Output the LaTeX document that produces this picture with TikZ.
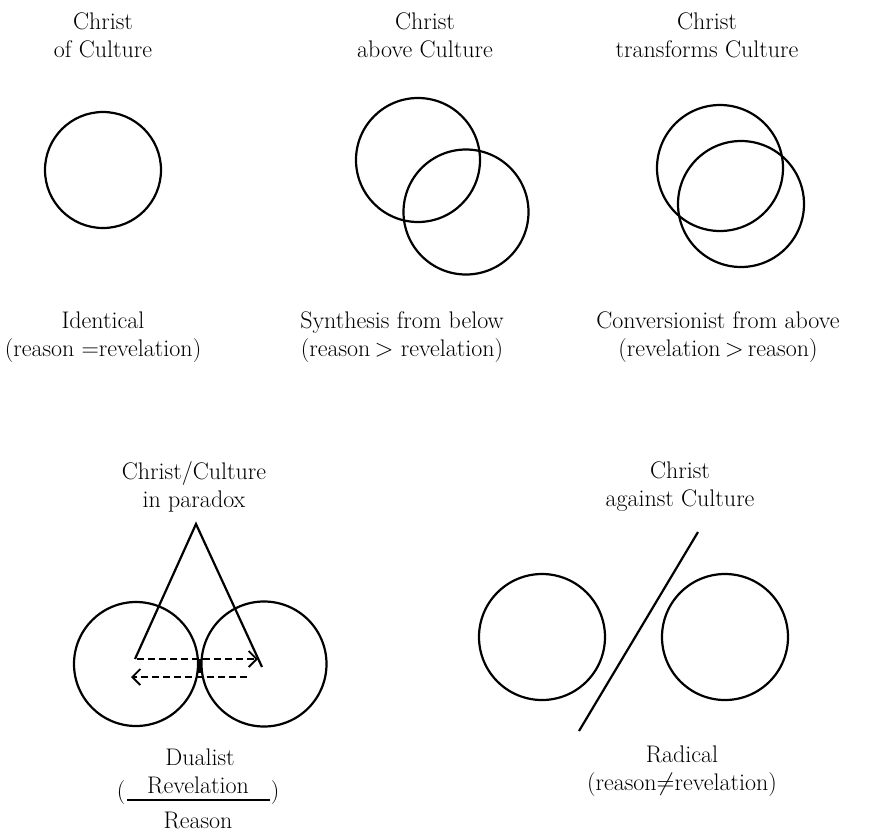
\documentclass[tikz,border=0pt]{standalone}
\usetikzlibrary{arrows.meta}
\begin{document}
\begin{tikzpicture}[x=1pt,y=-1pt,
  lbl/.style={align=center,inner sep=0pt,font=\fontsize{24}{28}\selectfont},
  ring/.style={draw,circle,line width=2.2pt,inner sep=0pt},
  stroke/.style={line width=2.2pt},
  dashline/.style={line width=2.2pt,dash pattern=on 7pt off 4pt,-{Straight Barb[length=8pt,width=16pt,line width=1.8pt]}}]
\useasboundingbox (0,0) rectangle (881,831);
% top row labels
\node[lbl] (t1) at (103,35) {Christ\\of Culture};
\node[lbl] (t2) at (425,35) {Christ\\above Culture};
\node[lbl] (t3) at (707,35) {Christ\\transforms Culture};
% top row circles
\node[ring,minimum size=116pt] (c1) at (103,170) {};
\node[ring,minimum size=124pt] (ca) at (418,160) {};
\node[ring,minimum size=125pt] (cb) at (466,212) {};
\node[ring,minimum size=126pt] (cc) at (720,168) {};
\node[ring,minimum size=126pt] (cd) at (741,204) {};
% top row captions
\node[lbl] (b1) at (103,337) {Identical\\(reason =revelation)};
\node[lbl] (b2) at (402,337) {Synthesis from below\\(reason$\,>$ revelation)};
\node[lbl] (b3) at (718,337) {Conversionist from above\\(revelation$\,>\,$reason)};
% paradox
\node[lbl] (p) at (194,487) {Christ/Culture\\in paradox};
\node[ring,minimum size=124pt] (pl) at (136,664) {};
\node[ring,minimum size=125pt] (pr) at (264,664) {};
\coordinate (apex) at (196,524);
\coordinate (legl) at (135,659);
\coordinate (legr) at (262,667);
\draw[stroke,line join=miter] (legl) -- (apex) -- (legr);
\coordinate (a1s) at (137,659);
\coordinate (a1e) at (258,659);
\coordinate (a2s) at (247,677);
\coordinate (a2e) at (131,677);
\draw[dashline] (a1s) -- (a1e);
\draw[dashline] (a2s) -- (a2e);
\coordinate (bart) at (200,659);
\coordinate (barb) at (200,673);
\draw[line width=3.2pt] (bart) -- (barb);
\node[lbl] (du) at (200,757) {Dualist};
\node[lbl] (rev) at (198,785) {Revelation};
\node[lbl] (rea) at (198,820) {Reason};
\coordinate (fl) at (127,800);
\coordinate (fr) at (270,800);
\draw[line width=1.4pt] (fl) -- (fr);
\node[lbl] (lp) at (121,792) {(};
\node[lbl] (rp) at (275,792) {)};
% against
\node[lbl] (ag) at (680,487) {Christ\\against Culture};
\node[ring,minimum size=126pt] (al) at (542,637) {};
\node[ring,minimum size=126pt] (ar) at (725,637) {};
\coordinate (st) at (698,532);
\coordinate (sb) at (579,731);
\draw[stroke] (st) -- (sb);
\node[lbl] (rad) at (682,771) {Radical\\(reason$\neq$revelation)};
\end{tikzpicture}
\end{document}
